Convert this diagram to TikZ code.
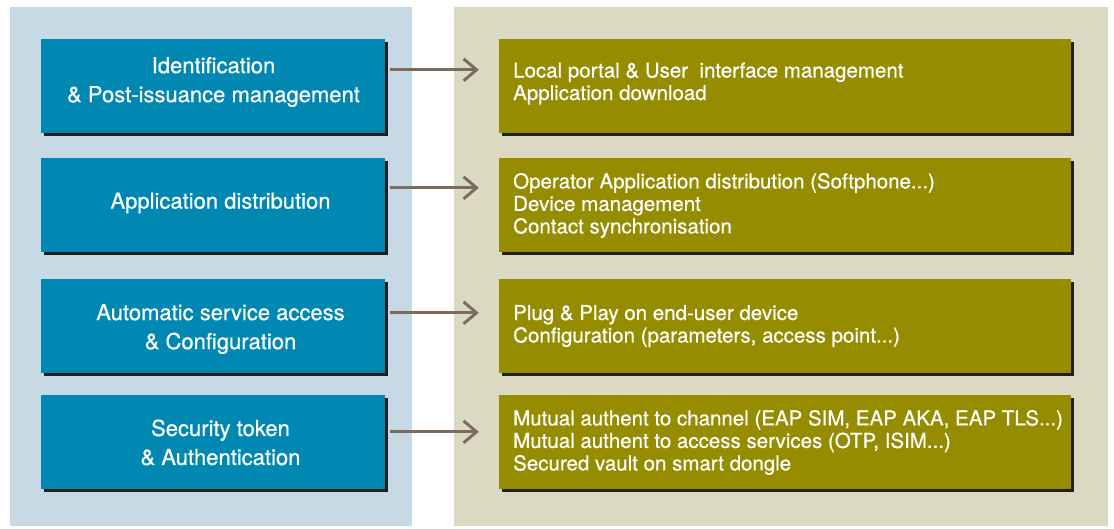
\documentclass[tikz,border=0pt]{standalone}
\usepackage{fontspec}
\setmainfont[FakeBold=0.6]{TeX Gyre Heros}
\newfontfamily\heavyfont[FakeBold=0.6]{TeX Gyre Heros}
\usetikzlibrary{arrows.meta,shadows}
\definecolor{leftbg}{HTML}{C8D9E6}
\definecolor{rightbg}{HTML}{DCD9C2}
\definecolor{bluebox}{HTML}{0088B2}
\definecolor{greenbox}{HTML}{968C00}
\definecolor{shadowc}{HTML}{231F20}
\definecolor{arrowc}{HTML}{7D6A5B}
\tikzset{
  panel/.style={fill=#1, draw=none},
  boxbase/.style={draw=none, minimum height=94pt, inner sep=0pt,
    drop shadow={shadow xshift=3pt, shadow yshift=-3pt, opacity=1, fill=shadowc}},
  bluenode/.style={boxbase, fill=bluebox, minimum width=344pt},
  greennode/.style={boxbase, fill=greenbox, minimum width=572pt},
  bluetext/.style={text=white, align=center, inner sep=0pt,
    font=\heavyfont\fontsize{22}{29}\selectfont},
  greentext/.style={text=white, align=left, inner sep=0pt, anchor=west,
    font=\heavyfont\fontsize{20.5}{22.5}\selectfont},
  arr/.style={draw=arrowc, line width=2.9pt,
    -{Straight Barb[length=13pt,width=22pt,line width=2.9pt]}}
}
\begin{document}
\begin{tikzpicture}[x=1pt,y=-1pt]
\useasboundingbox (0,0) rectangle (1114,528);
\fill[panel=leftbg] (10,7) rectangle (412,526);
\fill[panel=rightbg] (454,7) rectangle (1108,526);

% blue boxes
\node[bluenode] (b1) at (213,86) {};
\node[bluenode] (b2) at (213,205) {};
\node[bluenode] (b3) at (213,326) {};
\node[bluenode] (b4) at (213,442) {};
% green boxes
\node[greennode] (g1) at (785,86) {};
\node[greennode] (g2) at (785,205) {};
\node[greennode] (g3) at (785,326) {};
\node[greennode] (g4) at (785,442) {};

% blue texts
\node[bluetext] (t1) at (213.5,82) {Identification\\\& Post-issuance management};
\node[bluetext] (t2) at (220.5,203) {Application distribution};
\node[bluetext] (t3) at (220.5,329) {Automatic service access\\\& Configuration};
\node[bluetext] (t4) at (220.5,442.5) {Security token\\\& Authentication};

% green texts
\node[greentext] (u1) at (513,83.5) {Local portal \& User\ \ interface management\\Application download};
\node[greentext] (u2) at (513,205.5) {Operator Application distribution (Softphone...)\\Device management\\Contact synchronisation};
\node[greentext] (u3) at (513,326) {Plug \& Play on end-user device\\Configuration (parameters, access point...)};
\node[greentext] (u4) at (513,442.5) {Mutual authent to channel (EAP SIM, EAP AKA, EAP TLS...)\\Mutual authent to access services (OTP, ISIM...)\\Secured vault on smart dongle};

% arrows
\draw[arr] ([shift={(5,31)}]b1.north east) -- ([shift={(-20,31)}]g1.north west);
\draw[arr] ([shift={(5,30)}]b2.north east) -- ([shift={(-20,30)}]g2.north west);
\draw[arr] ([shift={(5,34)}]b3.north east) -- ([shift={(-20,34)}]g3.north west);
\draw[arr] ([shift={(5,37)}]b4.north east) -- ([shift={(-20,37)}]g4.north west);
\end{tikzpicture}
\end{document}
